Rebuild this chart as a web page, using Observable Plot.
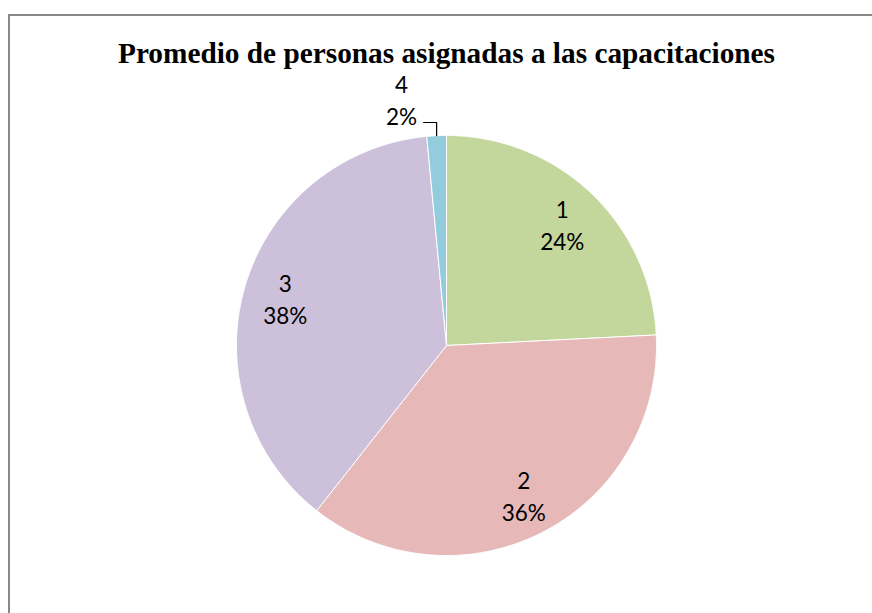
<!DOCTYPE html>
<html>
<head>
<meta charset="utf-8">
<script src="https://cdn.jsdelivr.net/npm/d3@7"></script>
<script src="https://cdn.jsdelivr.net/npm/@observablehq/plot@0.6"></script>
<style>
  html, body { margin: 0; padding: 0; background: #fff; }
  #wrap { position: relative; width: 872px; height: 613px; overflow: hidden; }
  #border { position: absolute; left: 8px; top: 14px; width: 1000px; height: 1000px;
            border-left: 2px solid #888; border-top: 2px solid #888; }
  #chart { position: absolute; left: 0; top: 0; }
</style>
</head>
<body>
<div id="wrap"><div id="border"></div><div id="chart"></div></div>
<script>
const title = "Promedio de personas asignadas a las capacitaciones";
const categories = ["1", "2", "3", "4"];
const values = [24.2, 36.4, 37.9, 1.5];
const colors = ["#C3D69B", "#E6B9B8", "#CCC0DA", "#93CDDD"];

const total = d3.sum(values);
const arcs = d3.pie().sort(null).value(d => d)(values);

// slice outlines (unit circle, clockwise from 12 o'clock)
const sliceMarks = arcs.map((a, i) => {
  const n = Math.max(2, Math.ceil((a.endAngle - a.startAngle) / 0.005));
  const pts = [{x: 0, y: 0}];
  for (let j = 0; j <= n; j++) {
    const t = a.startAngle + (a.endAngle - a.startAngle) * j / n;
    pts.push({x: Math.sin(t), y: Math.cos(t)});
  }
  pts.push({x: 0, y: 0});
  return Plot.line(pts, {x: "x", y: "y", fill: colors[i], stroke: "white", strokeWidth: 1, curve: "linear-closed"});
});

const pct = v => Math.round(v / total * 100) + "%";
const inside = [], outside = [], leader = [];
arcs.forEach((a, i) => {
  const m = (a.startAngle + a.endAngle) / 2;
  const share = values[i] / total;
  const text = categories[i] + "\n" + pct(values[i]);
  if (share >= 0.05) {
    inside.push({x: 0.8 * Math.sin(m), y: 0.8 * Math.cos(m), text});
  } else {
    const ex = Math.sin(m), ey = Math.cos(m);
    const ly = 1.062;
    leader.push({x: ex, y: ey}, {x: ex, y: ly}, {x: ex - 0.062, y: ly});
    outside.push({x: ex - 0.167, y: ly - 0.014, text});
  }
});

const font = "Lato, 'Open Sans', sans-serif";
const chart = Plot.plot({
  width: 872,
  height: 613,
  marginLeft: 236,
  marginRight: 216,
  marginTop: 135,
  marginBottom: 58,
  x: {domain: [-1, 1], axis: null},
  y: {domain: [-1, 1], axis: null},
  style: {background: "transparent"},
  marks: [
    ...sliceMarks,
    Plot.text(inside, {x: "x", y: "y", text: "text", fontSize: 22.5, lineHeight: 1.42, fontFamily: font, fill: "#000"}),
    Plot.line(leader, {x: "x", y: "y", stroke: "#000", strokeWidth: 1.2}),
    Plot.text(outside, {x: "x", y: "y", text: "text", textAnchor: "middle", lineAnchor: "bottom", fontSize: 22.5, lineHeight: 1.42, fontFamily: font, fill: "#000"}),
    Plot.text([title], {frameAnchor: "top", dy: -73, lineAnchor: "bottom", text: d => d, fontSize: 29.3, fontWeight: "bold", fontFamily: "'Liberation Serif', 'Times New Roman', serif", fill: "#000"})
  ]
});
document.getElementById("chart").appendChild(chart);
</script>
</body>
</html>
